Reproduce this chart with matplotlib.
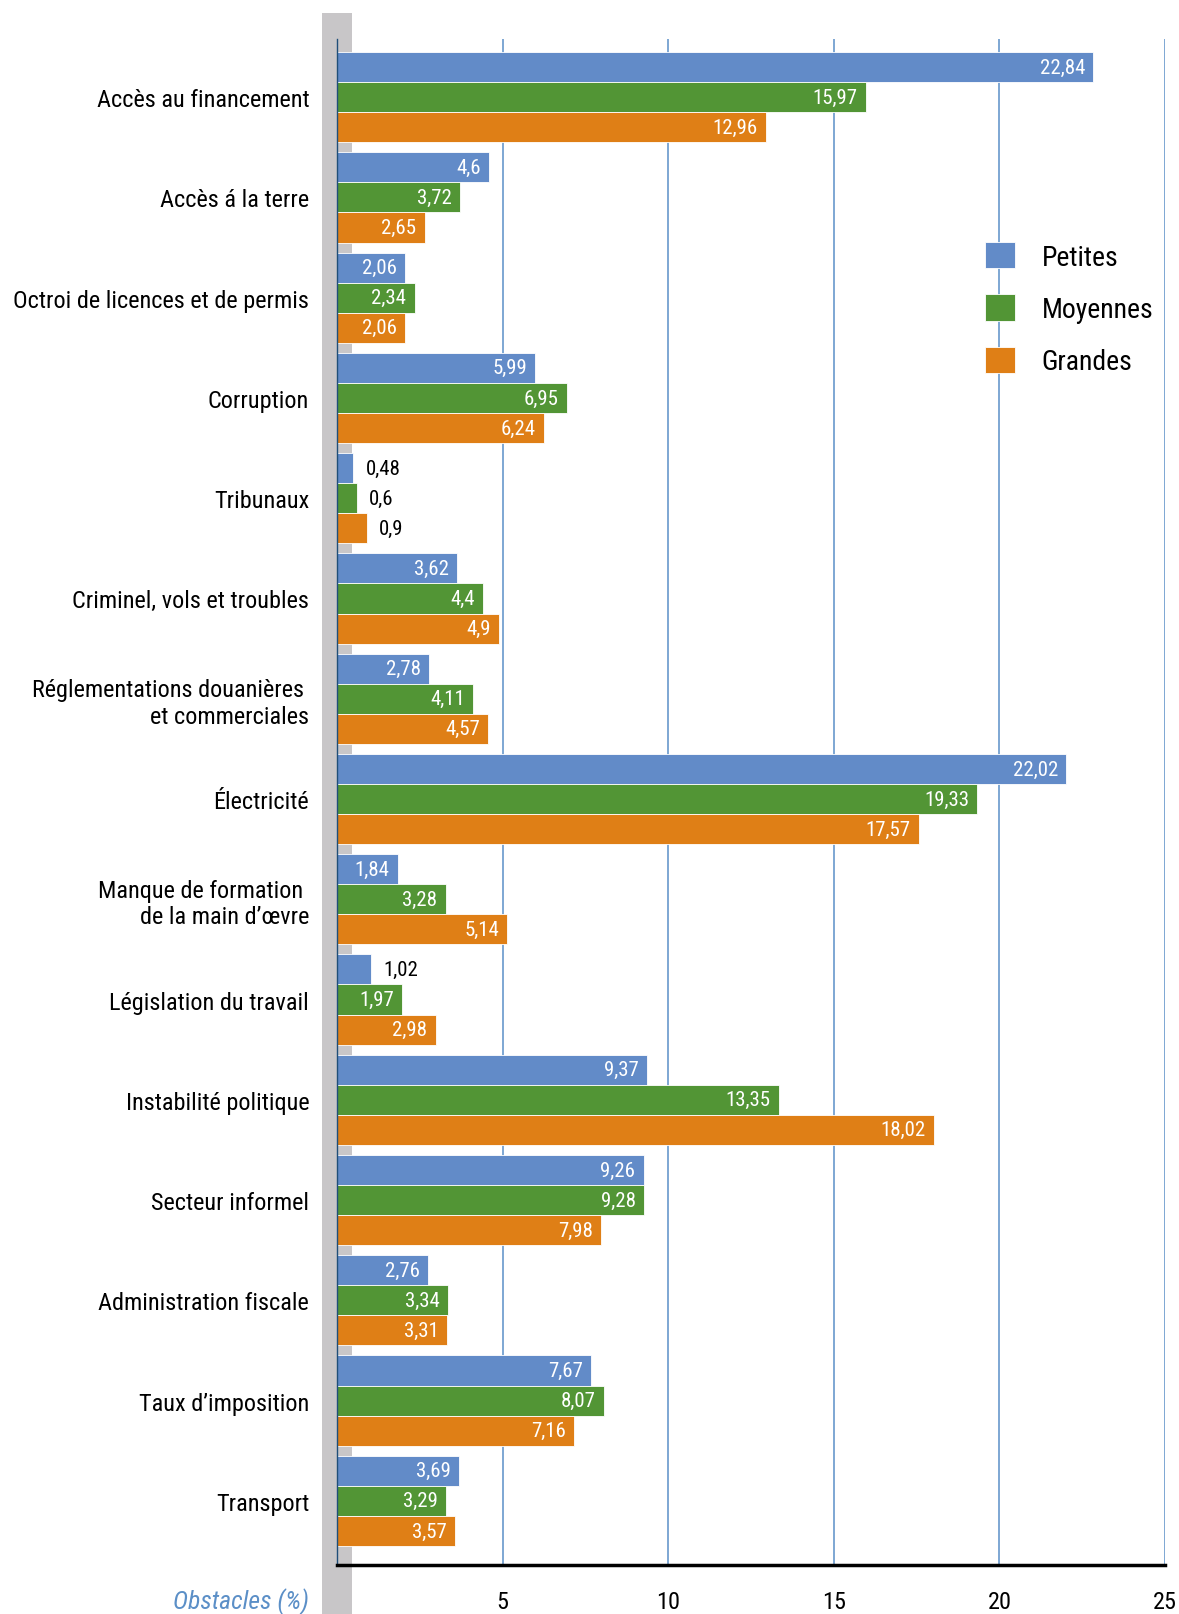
import matplotlib
matplotlib.use('Agg')
import matplotlib.pyplot as plt
import matplotlib.patches as patches
from matplotlib import font_manager
import numpy as np

# pick a condensed face if one is installed
fonts = [(f.name, f.stretch) for f in font_manager.fontManager.ttflist]
names = {n for n, s in fonts}
base = 'Liberation Sans'
stretch = 'normal'
lab_size = 15.5
for cand in ['Roboto Condensed', 'Open Sans Condensed', 'Liberation Sans Narrow']:
    if cand in names:
        base = cand
        lab_size = 17.5
        break
else:
    for n, s in fonts:
        if n in ('Roboto', 'Open Sans', 'DejaVu Sans') and s in ('condensed', 'semi-condensed', 75, 87):
            base, stretch, lab_size = n, s, 17.5
            break
plt.rcParams['font.family'] = [base, 'DejaVu Sans']
plt.rcParams['font.stretch'] = stretch

categories = ['Accès au financement', 'Accès á la terre', 'Octroi de licences et de permis',
              'Corruption', 'Tribunaux', 'Criminel, vols et troubles',
              'Réglementations douanières \net commerciales', 'Électricité',
              'Manque de formation \nde la main d’œvre', 'Législation du travail',
              'Instabilité politique', 'Secteur informel', 'Administration fiscale',
              'Taux d’imposition', 'Transport']
petites = [22.84, 4.6, 2.06, 5.99, 0.48, 3.62, 2.78, 22.02, 1.84, 1.02, 9.37, 9.26, 2.76, 7.67, 3.69]
moyennes = [15.97, 3.72, 2.34, 6.95, 0.6, 4.4, 4.11, 19.33, 3.28, 1.97, 13.35, 9.28, 3.34, 8.07, 3.29]
grandes = [12.96, 2.65, 2.06, 6.24, 0.9, 4.9, 4.57, 17.57, 5.14, 2.98, 18.02, 7.98, 3.31, 7.16, 3.57]
series_names = ['Petites', 'Moyennes', 'Grandes']
xticks = [5, 10, 15, 20, 25]

colors = ['#628bc8', '#529535', '#df7f16']
grid_col = '#5b8fc7'

W, H = 1179, 1615
fig = plt.figure(figsize=(W / 100, H / 100), dpi=100)

# gray band behind the y axis
fig.patches.append(patches.Rectangle((322 / W, 0), 30 / W, 1 - 14 / H, transform=fig.transFigure,
                                     facecolor='#c8c6c8', edgecolor='none', zorder=-1))

ax = fig.add_axes([337 / W, 1 - 1566 / H, (1165 - 337) / W, (1566 - 40) / H])
ax.patch.set_visible(False)

y = np.arange(len(categories))
h = 0.3
bars = []
for k, vals in enumerate([petites, moyennes, grandes]):
    b = ax.barh(y + (k - 1) * h, vals, height=h, color=colors[k], edgecolor='white',
                linewidth=0.6, zorder=3, label=series_names[k])
    bars.append(b)
    for yi, v in zip(y, vals):
        txt = str(v).replace('.', ',')
        if v < 1.5:
            ax.annotate(txt, (v, yi + (k - 1) * h), xytext=(9, 0), textcoords='offset points',
                        ha='left', va='center', fontsize=15, color='black', zorder=4)
        else:
            ax.annotate(txt, (v, yi + (k - 1) * h), xytext=(-6, 0), textcoords='offset points',
                        ha='right', va='center', fontsize=15, color='white', zorder=4)

ax.set_xlim(0, 25)
ax.set_ylim(14.64, -0.58)
ax.set_xticks(xticks)
ax.set_xticklabels([str(t) for t in xticks], fontsize=lab_size)
ax.set_yticks(y)
ax.set_yticklabels(categories, fontsize=lab_size)
ax.tick_params(axis='y', length=0, pad=20)
ax.tick_params(axis='x', length=0, pad=18)
ax.grid(axis='x', color=grid_col, linewidth=1.1, zorder=1)
for s in ['top', 'right']:
    ax.spines[s].set_visible(False)
ax.spines['left'].set_color('#1f4e79')
ax.spines['left'].set_linewidth(1.0)
ax.spines['left'].set_zorder(4)
ax.spines['bottom'].set_color('black')
ax.spines['bottom'].set_linewidth(2.5)
ax.spines['bottom'].set_zorder(5)

ax.legend(handles=bars, labels=series_names, frameon=False, fontsize=20,
          loc='upper left', bbox_to_anchor=(971 / W, 1 - 229 / H), bbox_transform=fig.transFigure,
          handlelength=1.08, handleheight=1.08, handletextpad=0.97, labelspacing=0.86, borderpad=0)

fig.text(309 / W, 1 - 1602 / H, 'Obstacles (%)', ha='right', va='center', fontsize=lab_size + 1,
         style='italic', color=grid_col)

fig.savefig('out.png', dpi=100)
